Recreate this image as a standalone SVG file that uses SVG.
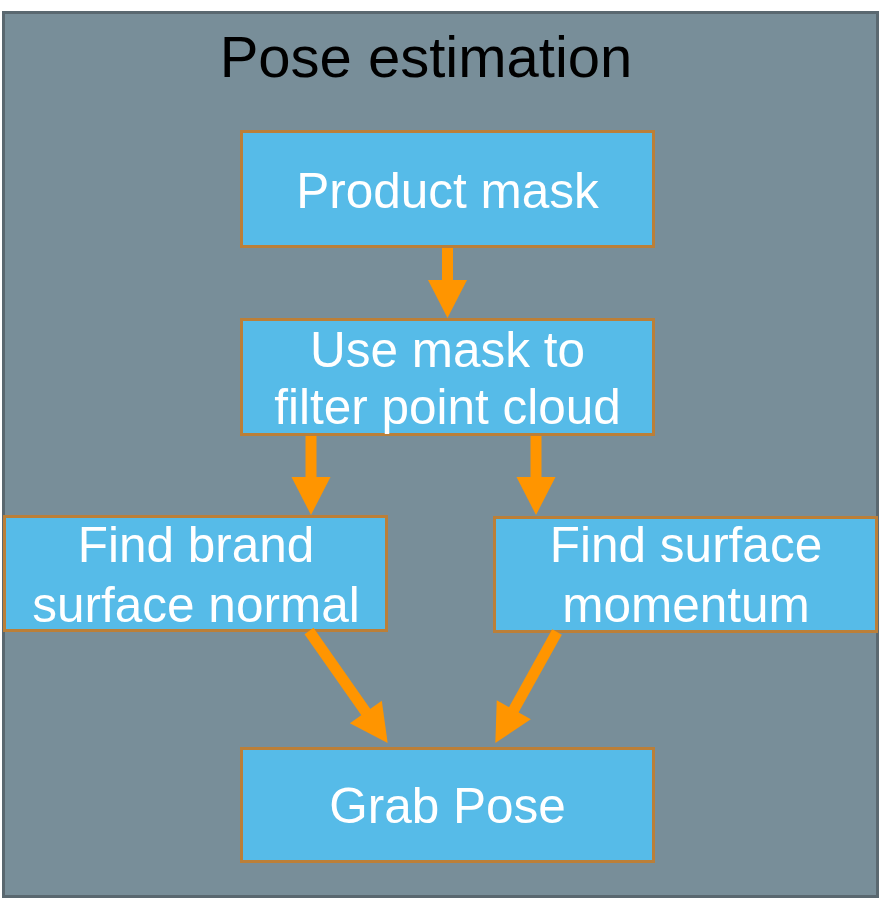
<svg xmlns="http://www.w3.org/2000/svg" width="880" height="900" viewBox="0 0 880 900">
  <style>
    .frame { fill: #788e99; stroke: #5a6870; stroke-width: 3; }
    .box { fill: #56bbe8; stroke: #bb7f38; stroke-width: 3; }
    .label { font-family: "Liberation Sans", Arial, sans-serif; font-size: 49.5px; fill: #ffffff; text-anchor: middle; }
    .title { font-family: "Liberation Sans", Arial, sans-serif; font-size: 58px; fill: #000000; text-anchor: middle; }
    .conn { stroke: #ff9500; stroke-width: 11; fill: none; marker-end: url(#head); }
  </style>
  <defs>
    <marker id="head" markerUnits="userSpaceOnUse" markerWidth="40" markerHeight="40" refX="1" refY="19.5" orient="auto" overflow="visible">
      <path d="M0,0 L38,19.5 L0,39 Z" fill="#ff9500"/>
    </marker>
  </defs>
  <rect class="frame" x="3.5" y="12.5" width="874" height="884"/>
  <text class="title" x="426" y="77">Pose estimation</text>

  <g id="product-mask">
    <rect class="box" x="241.5" y="131.5" width="412" height="115"/>
    <text class="label" x="447.5" y="208">Product mask</text>
  </g>
  <g id="filter-point-cloud">
    <rect class="box" x="241.5" y="319.5" width="412" height="115"/>
    <text class="label" x="447.5" y="367">Use mask to</text>
    <text class="label" x="447.5" y="424">filter point cloud</text>
  </g>
  <g id="brand-surface-normal">
    <rect class="box" x="4.5" y="516.5" width="382" height="114"/>
    <text class="label" x="196" y="562">Find brand</text>
    <text class="label" x="196" y="622">surface normal</text>
  </g>
  <g id="surface-momentum">
    <rect class="box" x="494.5" y="517.5" width="382" height="114"/>
    <text class="label" x="686" y="562">Find surface</text>
    <text class="label" x="686" y="622">momentum</text>
  </g>
  <g id="grab-pose">
    <rect class="box" x="241.5" y="748.5" width="412" height="113"/>
    <text class="label" x="447.5" y="823">Grab Pose</text>
  </g>

  <g id="connectors">
    <line class="conn" x1="447.5" y1="248" x2="447.5" y2="281"/>
    <line class="conn" x1="311" y1="436" x2="311" y2="478"/>
    <line class="conn" x1="536" y1="436" x2="536" y2="478"/>
    <line class="conn" x1="309" y1="631" x2="366.4" y2="712.8"/>
    <line class="conn" x1="557" y1="632" x2="513.3" y2="710.7"/>
  </g>
</svg>
